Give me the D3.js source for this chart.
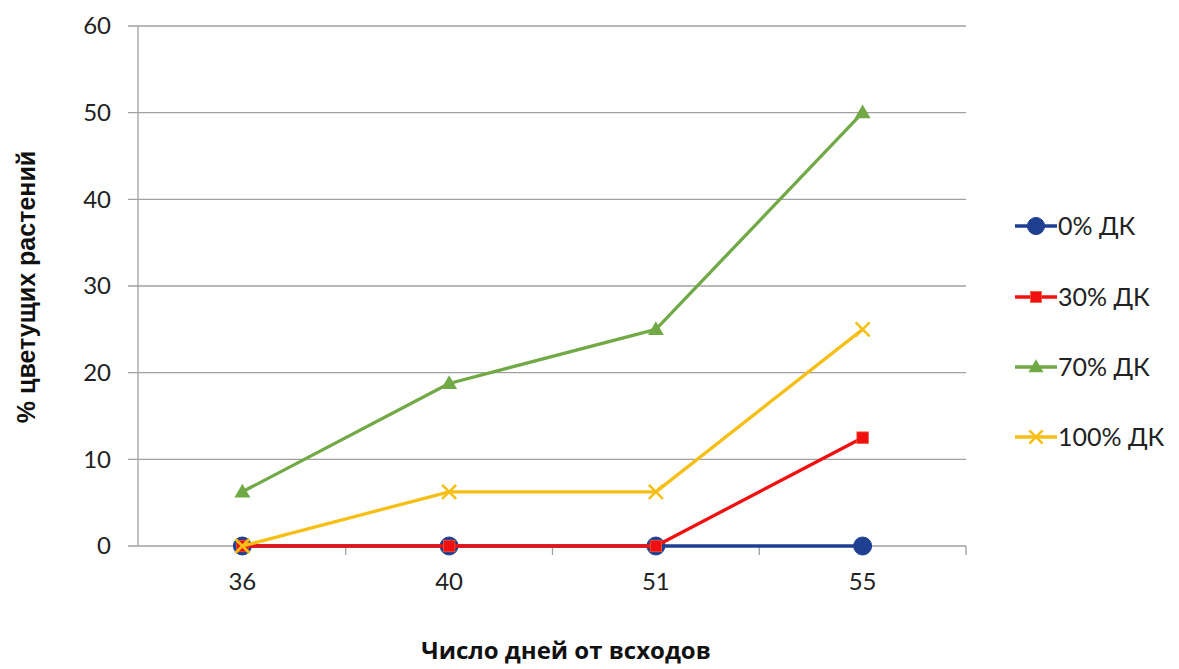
<!DOCTYPE html>
<html>
<head>
<meta charset="utf-8">
<script src="https://cdn.jsdelivr.net/npm/d3@7"></script>
<style>
  html, body { margin: 0; padding: 0; background: #fff; }
  svg { display: block; }
</style>
</head>
<body>
<svg id="chart" width="1179" height="669"></svg>
<script>
// Days since emergence
const days = ["36", "40", "51", "55"];
// Share of flowering plants, % per treatment
const dk0 = [0, 0, 0, 0];
const dk30 = [0, 0, 0, 12.5];
const dk70 = [6.25, 18.75, 25, 50];
const dk100 = [0, 6.25, 6.25, 25];
const yTicks = [0, 10, 20, 30, 40, 50, 60];

const series = [
  { name: "0% ДК", values: dk0, color: "#1f3f91", marker: "circle" },
  { name: "30% ДК", values: dk30, color: "#f01010", marker: "square" },
  { name: "70% ДК", values: dk70, color: "#72a947", marker: "triangle" },
  { name: "100% ДК", values: dk100, color: "#f6bf16", marker: "cross" }
];

const svg = d3.select("#chart");
const plot = { left: 138, right: 966, top: 26, bottom: 546 };

const x = d3.scaleBand().domain(days).range([plot.left + 1, plot.right]);
const y = d3.scaleLinear().domain([0, 60]).range([plot.bottom, plot.top]);
const cx = d => x(d) + x.bandwidth() / 2;

const font = "Lato, 'Open Sans', sans-serif";

// horizontal gridlines with tick stubs on the left
svg.append("g")
  .selectAll("line")
  .data(yTicks)
  .join("line")
  .attr("x1", plot.left - 10)
  .attr("x2", plot.right)
  .attr("y1", d => y(d))
  .attr("y2", d => y(d))
  .attr("stroke", "#a0a0a0")
  .attr("stroke-width", 1.3);

// value axis line
svg.append("line")
  .attr("x1", plot.left).attr("x2", plot.left)
  .attr("y1", plot.top).attr("y2", plot.bottom)
  .attr("stroke", "#a0a0a0").attr("stroke-width", 1.3);

// y tick labels
svg.append("g")
  .selectAll("text")
  .data(yTicks)
  .join("text")
  .attr("x", 111)
  .attr("y", d => y(d))
  .attr("dy", "0.35em")
  .attr("text-anchor", "end")
  .attr("font-family", font)
  .attr("font-size", 24)
  .attr("fill", "#222")
  .text(d => d);

// category axis tick marks at band edges
const edges = days.slice(1).map(d => x(d)).concat([plot.right]);
svg.append("g")
  .selectAll("line")
  .data(edges)
  .join("line")
  .attr("x1", d => d).attr("x2", d => d)
  .attr("y1", plot.bottom).attr("y2", plot.bottom + 9)
  .attr("stroke", "#a0a0a0").attr("stroke-width", 1.3);

// x tick labels
svg.append("g")
  .selectAll("text")
  .data(days)
  .join("text")
  .attr("x", d => cx(d))
  .attr("y", 582)
  .attr("dy", "0.35em")
  .attr("text-anchor", "middle")
  .attr("font-family", font)
  .attr("font-size", 24)
  .attr("fill", "#222")
  .text(d => d);

// marker drawing
function drawMarker(g, type, color, px, py, scale = 1) {
  if (type === "circle") {
    g.append("circle").attr("cx", px).attr("cy", py).attr("r", 9 * scale)
      .attr("fill", color).attr("stroke", color);
  } else if (type === "square") {
    const s = 11.5 * scale;
    g.append("rect").attr("x", px - s / 2).attr("y", py - s / 2)
      .attr("width", s).attr("height", s).attr("fill", color)
      .attr("stroke", "#f05a3a").attr("stroke-width", 0.8);
  } else if (type === "triangle") {
    g.append("path")
      .attr("d", d3.symbol().type(d3.symbolTriangle).size(110 * scale * scale)())
      .attr("transform", `translate(${px},${py + 1})`)
      .attr("fill", color);
  } else if (type === "cross") {
    const s = 7 * scale;
    g.append("path")
      .attr("d", `M${px - s},${py - s}L${px + s},${py + s}M${px - s},${py + s}L${px + s},${py - s}`)
      .attr("stroke", color).attr("stroke-width", 2.6).attr("fill", "none");
  }
}

const line = d3.line().x((v, i) => cx(days[i])).y(v => y(v));

series.forEach(s => {
  const g = svg.append("g");
  g.append("path")
    .attr("d", line(s.values))
    .attr("fill", "none")
    .attr("stroke", s.color)
    .attr("stroke-width", 3.3)
    .attr("stroke-linejoin", "round");
  s.values.forEach((v, i) => drawMarker(g, s.marker, s.color, cx(days[i]), y(v)));
});

// legend
const legendRows = [226, 297, 367, 437];
series.forEach((s, i) => {
  const g = svg.append("g");
  const ly = legendRows[i];
  g.append("line")
    .attr("x1", 1015).attr("x2", 1057)
    .attr("y1", ly).attr("y2", ly)
    .attr("stroke", s.color).attr("stroke-width", 3.3);
  drawMarker(g, s.marker, s.color, 1036, ly, 0.95);
  g.append("text")
    .attr("x", 1058).attr("y", ly)
    .attr("dy", "0.35em")
    .attr("font-family", font)
    .attr("font-size", 25)
    .attr("fill", "#222")
    .text(s.name);
});

// axis titles
svg.append("text")
  .attr("transform", "translate(26,287) rotate(-90)")
  .attr("text-anchor", "middle")
  .attr("dy", "0.35em")
  .attr("font-family", "'Liberation Sans', Arial, sans-serif")
  .attr("font-weight", "bold")
  .attr("font-size", 25)
  .attr("fill", "#111")
  .text("% цветущих растений");

svg.append("text")
  .attr("x", 566).attr("y", 651)
  .attr("dy", "0.35em")
  .attr("text-anchor", "middle")
  .attr("font-family", "'Open Sans', Lato, sans-serif")
  .attr("font-weight", "bold")
  .attr("font-size", 24)
  .attr("fill", "#111")
  .text("Число дней от всходов");
</script>
</body>
</html>
